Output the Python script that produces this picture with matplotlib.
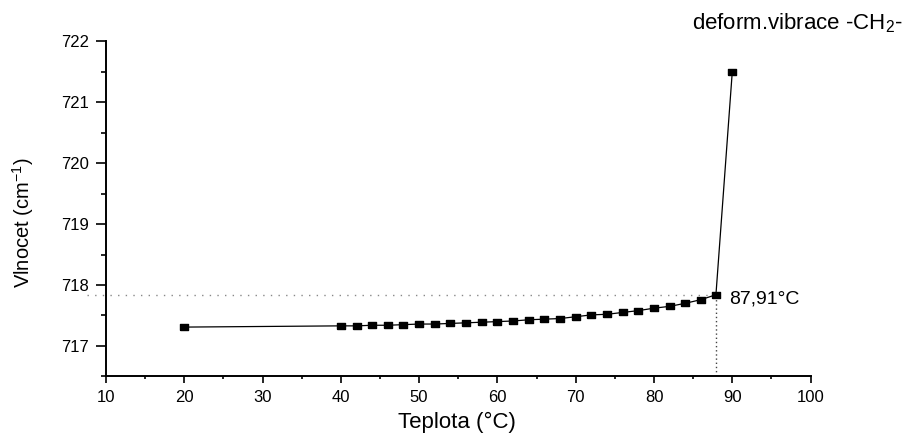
import matplotlib
matplotlib.use('Agg')
import matplotlib.pyplot as plt
from matplotlib.ticker import MultipleLocator

plt.rcParams['font.family'] = ['Liberation Sans', 'DejaVu Sans']
plt.rcParams['mathtext.fontset'] = 'custom'
plt.rcParams['mathtext.rm'] = 'Liberation Sans'
plt.rcParams['mathtext.it'] = 'Liberation Sans:italic'
plt.rcParams['mathtext.default'] = 'rm'

# data
teplota = [20, 40, 42, 44, 46, 48, 50, 52, 54, 56, 58, 60, 62, 64, 66, 68,
           70, 72, 74, 76, 78, 80, 82, 84, 86, 87.91, 90]
vlnocet = [717.31, 717.33, 717.33, 717.34, 717.34, 717.35, 717.36, 717.36,
           717.37, 717.38, 717.39, 717.40, 717.41, 717.43, 717.44, 717.45,
           717.48, 717.51, 717.52, 717.55, 717.58, 717.62, 717.65, 717.70,
           717.76, 717.84, 721.50]
t_zlom = 87.91
v_zlom = 717.83

fig = plt.figure(figsize=(9.12, 4.34), dpi=100)
ax = fig.add_axes([0.1162, 0.1325, 0.7726, 0.773])

# rectangular marker, a bit wider than tall
rect = [(-1, -0.7), (1, -0.7), (1, 0.7), (-1, 0.7), (-1, -0.7)]
ax.plot(teplota, vlnocet, color='black', lw=0.9, marker=rect, ms=5.2,
        mfc='black', mec='black', zorder=3)

# dotted guide lines to the break point
ax.plot([7.6, t_zlom], [v_zlom, v_zlom], color='#888888', lw=1.0,
        linestyle=(0, (1, 4.5)), clip_on=False, zorder=2)
ax.plot([t_zlom, t_zlom], [716.5, v_zlom], color='#444444', lw=1.0,
        linestyle=(0, (1, 2)), zorder=2)
ax.text(89.6, 717.70, '87,91°C', fontsize=14, ha='left', va='baseline')

ax.set_xlim(10, 100)
ax.set_ylim(716.5, 722)
ax.xaxis.set_major_locator(MultipleLocator(10))
ax.xaxis.set_minor_locator(MultipleLocator(5))
ax.yaxis.set_major_locator(MultipleLocator(1))
ax.yaxis.set_minor_locator(MultipleLocator(0.5))

ax.spines['top'].set_visible(False)
ax.spines['right'].set_visible(False)
for s in ['left', 'bottom']:
    ax.spines[s].set_linewidth(1.4)

ax.tick_params(axis='x', which='major', direction='out', length=5, width=1.2,
               pad=5, labelsize=12)
ax.tick_params(axis='x', which='minor', direction='out', length=2.5, width=1.2)
ax.tick_params(axis='y', which='major', direction='out', length=7, width=1.2,
               pad=5, labelsize=12)
ax.tick_params(axis='y', which='minor', direction='out', length=3.5, width=1.2)

ax.set_xlabel('Teplota (°C)', fontsize=16)
ax.xaxis.set_label_coords(0.498, -0.104)
ax.set_ylabel('Vlnocet (cm$^{-1}$)', fontsize=14.5)
ax.yaxis.set_label_coords(-0.099, 0.4575)

fig.text(903 / 912, 1 - 29.5 / 434, 'deform.vibrace -CH$_{2}$-', fontsize=16,
         ha='right', va='baseline')

fig.savefig('out.png', dpi=100)
